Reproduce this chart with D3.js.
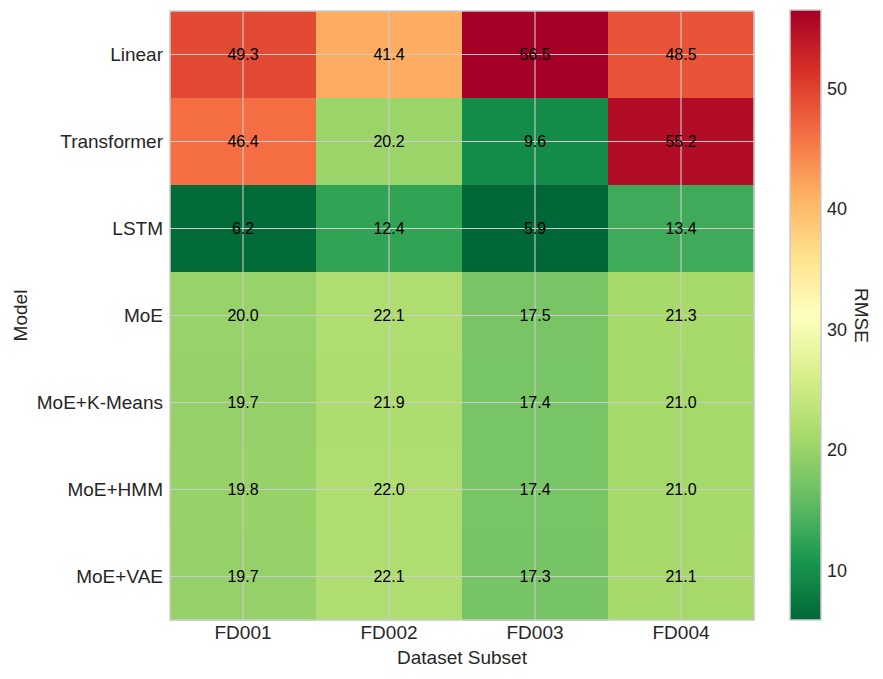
<!DOCTYPE html>
<html lang="en">
<head>
    <meta charset="UTF-8">
    <title>RMSE Heatmap</title>
    <script src="https://d3js.org/d3.v7.min.js"></script>
    <style>
        body {
            margin: 0;
            background: #fff;
            font-family: 'Liberation Sans', Arial, sans-serif;
        }
        .tick text { fill: #262626; }
    </style>
</head>
<body>
    <svg width="883" height="679"></svg>
    <script>
        const models = ["Linear", "Transformer", "LSTM", "MoE", "MoE+K-Means", "MoE+HMM", "MoE+VAE"];
        const subsets = ["FD001", "FD002", "FD003", "FD004"];
        const rmse = [
            [49.3, 41.4, 56.5, 48.5],
            [46.4, 20.2, 9.6, 55.2],
            [6.2, 12.4, 5.9, 13.4],
            [20.0, 22.1, 17.5, 21.3],
            [19.7, 21.9, 17.4, 21.0],
            [19.8, 22.0, 17.4, 21.0],
            [19.7, 22.1, 17.3, 21.1]
        ];
        const cbTicks = [10, 20, 30, 40, 50];

        const svg = d3.select("svg");
        const pLeft = 170, pRight = 754, pTop = 11, pBottom = 620;
        const font = "'Liberation Sans', Arial, sans-serif";

        const x = d3.scaleBand().domain(subsets).range([pLeft, pRight]);
        const y = d3.scaleBand().domain(models).range([pTop, pBottom]);

        const vmin = d3.min(rmse.flat()), vmax = d3.max(rmse.flat());
        // RdYlGn reversed, linear between the 11 brewer colours like matplotlib
        const interp = d3.piecewise(d3.interpolateRgb, d3.schemeRdYlGn[11].slice().reverse());
        const color = d3.scaleSequential(interp).domain([vmin, vmax]);

        const cells = [];
        rmse.forEach((row, i) => row.forEach((v, j) => cells.push({ m: models[i], s: subsets[j], v: v })));

        svg.append("g").selectAll("rect")
            .data(cells)
            .enter()
            .append("rect")
            .attr("x", d => x(d.s))
            .attr("y", d => y(d.m))
            .attr("width", x.bandwidth() + 0.5)
            .attr("height", y.bandwidth() + 0.5)
            .attr("fill", d => color(d.v));

        // grid lines through cell centres
        const grid = svg.append("g").attr("stroke", "#cccccc").attr("stroke-width", 1.1);
        subsets.forEach(s => {
            const cx = x(s) + x.bandwidth() / 2;
            grid.append("line").attr("x1", cx).attr("x2", cx).attr("y1", pTop).attr("y2", pBottom);
        });
        models.forEach(m => {
            const cy = y(m) + y.bandwidth() / 2;
            grid.append("line").attr("x1", pLeft).attr("x2", pRight).attr("y1", cy).attr("y2", cy);
        });

        svg.append("rect")
            .attr("x", pLeft).attr("y", pTop)
            .attr("width", pRight - pLeft).attr("height", pBottom - pTop)
            .attr("fill", "none").attr("stroke", "#cccccc").attr("stroke-width", 1.5);

        svg.append("g").selectAll("text")
            .data(cells)
            .enter()
            .append("text")
            .attr("x", d => x(d.s) + x.bandwidth() / 2)
            .attr("y", d => y(d.m) + y.bandwidth() / 2)
            .attr("text-anchor", "middle")
            .attr("dominant-baseline", "central")
            .attr("font-size", 16)
            .attr("font-family", font)
            .attr("fill", "#000")
            .text(d => d.v.toFixed(1));

        const xAxis = svg.append("g")
            .attr("transform", `translate(0,${pBottom})`)
            .call(d3.axisBottom(x).tickSize(0).tickPadding(6));
        xAxis.select(".domain").remove();
        xAxis.selectAll("text").attr("font-size", 19).attr("font-family", font);

        const yAxis = svg.append("g")
            .attr("transform", `translate(${pLeft},0)`)
            .call(d3.axisLeft(y).tickSize(0).tickPadding(7));
        yAxis.select(".domain").remove();
        yAxis.selectAll("text").attr("font-size", 19).attr("font-family", font);

        svg.append("text")
            .attr("x", (pLeft + pRight) / 2).attr("y", 664)
            .attr("text-anchor", "middle")
            .attr("font-size", 19).attr("font-family", font).attr("fill", "#262626")
            .text("Dataset Subset");

        svg.append("text")
            .attr("transform", `translate(27,${(pTop + pBottom) / 2}) rotate(-90)`)
            .attr("text-anchor", "middle")
            .attr("font-size", 19).attr("font-family", font).attr("fill", "#262626")
            .text("Model");

        // colour bar
        const cbX = 790, cbW = 31;
        const cbY = d3.scaleLinear().domain([vmin, vmax]).range([pBottom, 10]);
        const defs = svg.append("defs");
        const grad = defs.append("linearGradient")
            .attr("id", "cbgrad")
            .attr("x1", "0").attr("y1", "1").attr("x2", "0").attr("y2", "0");
        d3.range(0, 1.0001, 0.05).forEach(t => {
            grad.append("stop")
                .attr("offset", t)
                .attr("stop-color", interp(t));
        });
        svg.append("rect")
            .attr("x", cbX).attr("y", cbY(vmax))
            .attr("width", cbW).attr("height", cbY(vmin) - cbY(vmax))
            .attr("fill", "url(#cbgrad)")
            .attr("stroke", "#cccccc").attr("stroke-width", 1.5);

        const cbAxis = svg.append("g")
            .attr("transform", `translate(${cbX + cbW},0)`)
            .call(d3.axisRight(cbY).tickValues(cbTicks).tickSize(0).tickPadding(6));
        cbAxis.select(".domain").remove();
        cbAxis.selectAll("text").attr("font-size", 18).attr("font-family", font);

        svg.append("text")
            .attr("transform", `translate(855,${(pTop + pBottom) / 2}) rotate(90)`)
            .attr("text-anchor", "middle")
            .attr("font-size", 19).attr("font-family", font).attr("fill", "#262626")
            .text("RMSE");
    </script>
</body>
</html>
